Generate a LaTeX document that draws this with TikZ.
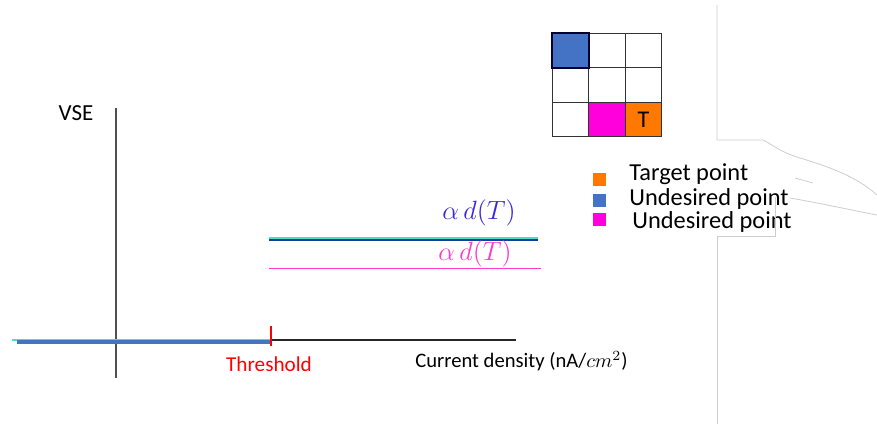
\documentclass[tikz,border=0pt]{standalone}
\usepackage{fontspec}
\setmainfont{Carlito}
\usepackage{tikz}
\usetikzlibrary{positioning,calc}
\definecolor{axisGray}{RGB}{80, 80, 80}
\definecolor{lineBlue}{RGB}{20, 60, 160}
\definecolor{tealEdge}{RGB}{80, 220, 200}
\definecolor{cellBlue}{RGB}{68, 114, 196}
\definecolor{cellMagenta}{RGB}{255, 0, 220}
\definecolor{cellOrange}{RGB}{255, 120, 0}
\definecolor{alphaBlue}{RGB}{60, 40, 220}
\definecolor{alphaPink}{RGB}{250, 60, 200}
\definecolor{faintGray}{RGB}{205, 205, 205}

\begin{document}
\begin{tikzpicture}[x=0.5pt, y=-0.5pt,
    lbl/.style={inner sep=0pt, font=\fontsize{10.6pt}{12pt}\selectfont},
    legtext/.style={inner sep=0pt, anchor=west, font=\fontsize{12.2pt}{14pt}\selectfont},
    mathlbl/.style={inner sep=0pt, font=\fontsize{12pt}{14pt}\selectfont, transform shape, scale=1.1},
    cell/.style={draw=black!80, line width=0.5pt, minimum width=18.2pt, minimum height=17.2pt, inner sep=0pt, outer sep=0pt},
    legbox/.style={minimum size=6.5pt, inner sep=0pt},
    faint/.style={draw=faintGray, line width=0.4pt}]
    \useasboundingbox (0,0) rectangle (877,424);
    % axes
    \coordinate (yTop) at (116,108);
    \coordinate (yBot) at (116,378);
    \coordinate (xLeft) at (12,340);
    \coordinate (thr) at (271,340);
    \coordinate (xRight) at (516,340);
    \draw[axisGray, line width=0.8pt] (yTop) -- (yBot);
    \draw[black!85, line width=0.6pt] (thr) -- (xRight);
    \draw[tealEdge, line width=0.6pt] (xLeft) -- (thr);
    \draw[cellBlue, line width=1.6pt] ($(xLeft)+(5,2)$) -- ($(thr)+(0,2)$);
    \draw[red, line width=0.6pt] ($(thr)+(0,-14)$) -- ($(thr)+(0,6)$);
    \node[lbl, red] (threshold) at (269,364) {Threshold};
    \node[lbl, anchor=west, font=\fontsize{10.3pt}{12pt}\selectfont] (xlabel) at (415,361) {Current density (nA/$cm^2$)};
    \node[lbl, font=\fontsize{11.5pt}{13pt}\selectfont] (ylabel) at (76,113) {VSE};
    % levels
    \coordinate (blueL) at (269,239);
    \coordinate (blueR) at (538,239);
    \coordinate (pinkL) at (269,268);
    \coordinate (pinkR) at (541,268);
    \draw[tealEdge, line width=0.6pt] ($(blueL)+(0,-1)$) -- ($(blueR)+(0,-1)$);
    \draw[lineBlue, line width=1.1pt] ($(blueL)+(0,0.8)$) -- ($(blueR)+(0,0.8)$);
    \draw[alphaPink, line width=0.5pt] (pinkL) -- (pinkR);
    \node[mathlbl, text=alphaBlue] (alphaBlueLbl) at (479,213) {$\alpha\, d(T)$};
    \node[mathlbl, text=alphaPink] (alphaPinkLbl) at (475,254) {$\alpha\, d(T)$};
    % grid
    \foreach \r in {0,1,2}
      \foreach \c in {0,1,2}
        \node[cell] (g\r\c) at ({570.5+36.5*\c},{50.5+34.5*\r}) {};
    \node[cell, fill=cellBlue, draw=black!80!blue, line width=0.9pt] at (g00) {};
    \node[cell, fill=cellMagenta] at (g21) {};
    \node[cell, fill=cellOrange, font=\fontsize{12pt}{14pt}\selectfont] at (g22) {T};
    % legend
    \node[legbox, fill=cellOrange] (legT) at (599,179) {};
    \node[legbox, fill=cellBlue] (legB) at (599,200) {};
    \node[legbox, fill=cellMagenta] (legM) at (599,219) {};
    \node[legtext] (legTtext) at (629,174) {Target point};
    \node[legtext] (legBtext) at (629,199) {Undesired point};
    \node[legtext] (legMtext) at (632,222) {Undesired point};
    % faint outline on the right
    \draw[faint] (717,5) -- (717,140) -- (763,140) .. controls (775,146) and (780,152) .. (800,158) .. controls (840,170) and (860,180) .. (877,195);
    \draw[faint] (790,198) .. controls (830,205) and (860,212) .. (877,215);
    \draw[faint] (795,178) -- (813,183);
    \draw[faint] (775,197) -- (775,236) -- (717,236) -- (717,424);
\end{tikzpicture}
\end{document}
